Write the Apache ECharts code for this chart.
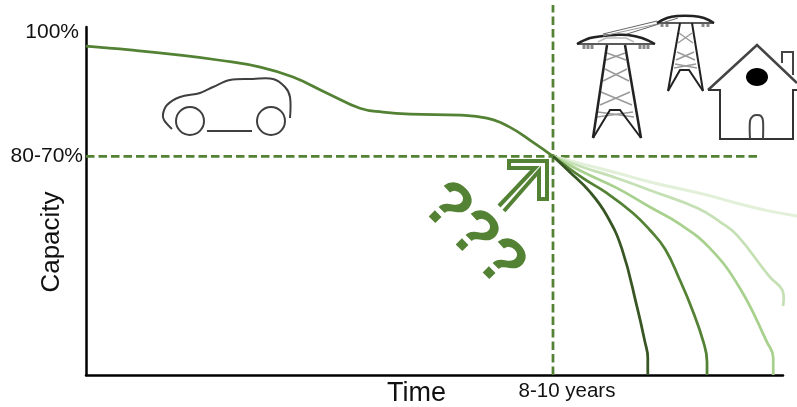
<!DOCTYPE html>
<html>
<head>
<meta charset="utf-8">
<style>html,body{margin:0;padding:0;background:#fff}#c{width:797px;height:407px}</style>
<script src="https://cdn.jsdelivr.net/npm/echarts@6/dist/echarts.min.js"></script>
</head>
<body>
<div id="c"></div>
<script>
// Chart data (x: % of time axis, y: % of capacity axis height)
var firstLife = [[0,95.9],[6.3,94.8],[13.5,93.3],[19.2,91.8],[25.0,89.8],[29.7,86.9],[34.6,82.2],[39.3,77.8],[42.6,76.7],[46.5,76.1],[53.7,75.8],[57.5,74.9],[60.8,72.3],[64.1,67.9],[67,63.8]];
var curveA = [[67,63.8],[69.4,59.2],[72.3,53.4],[74.7,46.6],[76.9,36.7],[79.1,19.5],[80.2,9.6],[80.6,5.0],[80.6,0]];
var curveB = [[67,63.8],[71.3,57.4],[74.7,53.1],[78.5,47.2],[80.9,42.3],[83.1,36.7],[85.2,27.7],[86.9,19.5],[88.6,9.5],[89.1,3.8],[89.1,0]];
var curveC = [[67,63.8],[71.3,59.2],[76.2,54.5],[80.9,49.0],[85.2,44.0],[89.5,37.0],[93.8,25.4],[97.7,9.6],[98.6,5.0],[98.6,0]];
var curveD = [[67,63.8],[71.3,60.6],[76.2,57.4],[80.9,53.9],[87.7,48.7],[91.0,44.6],[93.4,40.8],[98.1,28.6],[99.9,24.8],[100.1,22.4],[100,20.1]];
var curveE = [[67,63.8],[71.3,61.5],[76.2,58.9],[80.9,56.3],[88.5,52.8],[93.4,50.1],[98.1,47.8],[102,46.4]];
var kneeLevel = [[0,63.8],[96.8,63.8]];
var kneeTime = [[67,0],[67,107.9]];
var yTicks = [100, 63.8];
var yTickLabels = ['100%', '80-70%'];
var xTicks = [67];
var xTickLabels = ['8-10 years'];

var GREEN = '#548235', INK = '#3f3f3f';
function line(name, data, color, width, dash, axisIndex) {
  return {name:name, type:'line', data:data, symbol:'none', clip:false, smooth: dash ? false : 0.45,
    xAxisIndex:axisIndex||0, yAxisIndex:axisIndex||0,
    lineStyle:{color:color, width:width, type: dash ? [8.5,4] : 'solid', cap:'butt'}};
}
function poly(points, o) {
  o = o || {};
  return {type: o.closed ? 'polygon' : 'polyline', z:10, shape:{points:points, smooth:o.smooth||0},
    style:{stroke:o.color||INK, lineWidth:o.w||2, fill:o.fill||null, lineJoin:'miter'}};
}
function mark(x, y) {
  return {type:'text', z:10, x:x, y:y, rotation:-Math.PI/4,
    style:{text:'?', fill:GREEN, font:'bold 66px "Liberation Sans"', align:'center', verticalAlign:'middle'}};
}
function lattice(x1,x2,ys){ var out=[]; for(var i=0;i+1<ys.length;i+=2){ 
    out.push(poly([[x1[i],ys[i]],[x2[i+1],ys[i+1]]],{color:'#9a9a9a',w:1.5}));
    out.push(poly([[x2[i],ys[i]],[x1[i+1],ys[i+1]]],{color:'#9a9a9a',w:1.5})); } return out; }

var icons = lattice([607,606,605,603,601,600,598,597],[625,626,627,629,630,632,633,634],[53,60,69,81,92,105,112,117]).concat(
  lattice([679,678,677,676,675,674],[692,693,694,695,696,697],[33,43,52,60,64,68]),
  [
  // car
  poly([[172,129],[164,120],[163,114],[167,105],[180,97],[200,93],[213,87],[230,80],[253,79],[273,79],[285,87],[290,97],[290,118]],{smooth:0.35}),
  {type:'circle',z:10,shape:{cx:190,cy:121,r:14},style:{stroke:INK,lineWidth:2,fill:null}},
  {type:'circle',z:10,shape:{cx:271,cy:121,r:14},style:{stroke:INK,lineWidth:2,fill:null}},
  poly([[207,131],[252,131]]),
  // large tower
  poly([[577,44],[590,38],[603,36],[615,35],[628,35],[642,38],[655,44]],{smooth:0.4,color:'#222',w:2.5}),
  poly([[577,44],[655,44]],{color:'#222',w:1.5}),
  poly([[598,42],[606,38],[626,38],[634,42]],{color:'#bbb',w:1.5}),
  poly([[593,138],[607,45]],{color:'#222',w:2.5}), poly([[641,138],[625,45]],{color:'#222',w:2.5}),
  poly([[593,138],[610,110],[620,110],[641,138]],{color:'#222',w:2}),
  poly([[584,45],[584,49]],{color:'#888',w:3}),poly([[588,45],[588,49]],{color:'#888',w:3}),poly([[592,45],[592,49]],{color:'#888',w:3}),
  poly([[640,45],[640,49]],{color:'#888',w:3}),poly([[644,45],[644,49]],{color:'#888',w:3}),poly([[648,45],[648,49]],{color:'#888',w:3}),
  // small tower
  poly([[657,23],[667,18],[677,16],[693,16],[704,18],[714,23]],{smooth:0.4,color:'#222',w:2.5}),
  poly([[657,23],[714,23]],{color:'#222',w:1.5}),
  poly([[668,91],[680,23]],{color:'#222',w:2}), poly([[703,91],[692,23]],{color:'#222',w:2}),
  poly([[668,91],[680,70],[689,70],[703,91]],{color:'#222',w:2}),
  poly([[662,24],[662,27]],{color:'#888',w:3}), poly([[667,24],[667,27]],{color:'#888',w:3}),
  poly([[703,24],[703,27]],{color:'#888',w:3}), poly([[708,24],[708,27]],{color:'#888',w:3}),
  // wires
  poly([[603,34],[657,21]],{color:'#666',w:1}), poly([[603,36],[657,24]],{color:'#999',w:1}), poly([[627,34],[678,18]],{color:'#666',w:1}),
  // house
  poly([[708,90],[757,45],[797,83]],{w:2.5,color:'#444'}),
  poly([[708,90],[720,90],[720,139],[793,139],[793,90],[797,90]],{color:'#333'}),
  poly([[782,63],[782,52],[793,52],[793,75]],{color:'#444'}),
  {type:'ellipse',z:10,shape:{cx:757,cy:77,rx:11,ry:9},style:{fill:'#000'}},
  poly([[750,139],[750,121],[753,116],[757,115],[761,116],[763,121],[763,139]],{smooth:0.3,color:'#444'}),
  // arrow
  poly([[499,206],[535,168],[509,168],[509,161],[547,161],[547,199],[539,199],[539,171],[504,211]],{color:GREEN,w:4}),
  // question marks
  mark(446,208), mark(473,236), mark(500,264)
]);

var chart = echarts.init(document.getElementById('c'), null, {renderer:'canvas'});
chart.setOption({
  animation:false,
  backgroundColor:'#fff',
  textStyle:{fontFamily:'"Liberation Sans"'},
  grid:[
    {left:86, right:14, top:27, bottom:32, containLabel:false, outerBoundsMode:'none'},
    {left:86, right:0, top:27, bottom:32, containLabel:false, outerBoundsMode:'none'}
  ],
  xAxis:[{type:'value', gridIndex:0, min:0, max:100, name:'Time', nameLocation:'middle', nameGap:5, nameMoveOverlap:false,
    nameTextStyle:{fontSize:27,color:'#111',padding:[0,36,0,0]},
    axisLine:{show:true,lineStyle:{color:'#000',width:2.5}}, axisTick:{show:false}, splitLine:{show:false},
    axisLabel:{customValues:xTicks, formatter:function(v){return xTickLabels[xTicks.indexOf(v)];}, fontSize:20.5, color:'#111', margin:6, padding:[0,0,0,28]}},
    {type:'value', gridIndex:1, min:0, max:102, show:false}],
  yAxis:[{type:'value', gridIndex:0, min:0, max:101.5, name:'Capacity', nameLocation:'middle', nameGap:21, nameMoveOverlap:false,
    nameTextStyle:{fontSize:26,color:'#111',padding:[0,82,0,0]},
    axisLine:{show:true,lineStyle:{color:'#000',width:2.5}}, axisTick:{show:false}, splitLine:{show:false},
    axisLabel:{customValues:yTicks,
      formatter:function(v){var i=yTicks.indexOf(v);return '{'+(i===0?'a':'b')+'|'+yTickLabels[i]+'}';},
      rich:{a:{fontSize:21,color:'#111',padding:[0,4,0,0]},b:{fontSize:21,color:'#111'}},
      margin:3}},
    {type:'value', gridIndex:1, min:0, max:101.5, show:false}],
  series:[
    line('Knee level', kneeLevel, GREEN, 2.75, true),
    line('Knee time', kneeTime, GREEN, 2.75, true),
    line('First life', firstLife, GREEN, 2.75),
    line('E', curveE, '#E2F0D9', 3, false, 1),
    line('D', curveD, '#C5E0B4', 2.75),
    line('C', curveC, '#A9D18E', 2.75),
    line('B', curveB, '#548235', 2.75),
    line('A', curveA, '#375623', 2.75)
  ],
  graphic:{elements:icons}
});
</script>
</body>
</html>
